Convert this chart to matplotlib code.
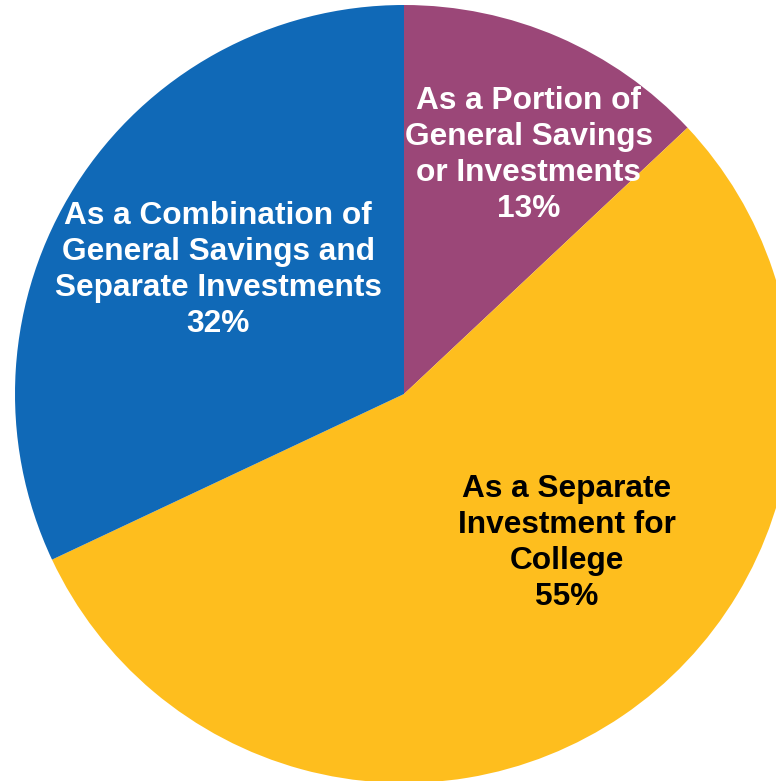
import matplotlib.pyplot as plt

# share of families saving for college, by method
categories = [
    "As a Portion of\nGeneral Savings\nor Investments",
    "As a Separate\nInvestment for\nCollege",
    "As a Combination of\nGeneral Savings and\nSeparate Investments",
]
shares = [13, 55, 32]
colors = ["#9B4778", "#FEBE1E", "#1069B7"]
text_colors = ["white", "black", "white"]
label_pos = [(0.321, 0.614), (0.419, -0.383), (-0.478, 0.319)]

plt.rcParams["font.family"] = ["Liberation Sans", "DejaVu Sans"]

W, H = 776, 781
cx, cy, r = 404, 394, 389

fig = plt.figure(figsize=(W / 100, H / 100), dpi=100)
ax = fig.add_axes([(cx - r) / W, (H - cy - r) / H, 2 * r / W, 2 * r / H])
ax.pie(shares, colors=colors, startangle=90, counterclock=False,
       radius=1, wedgeprops=dict(linewidth=0))
ax.set_xlim(-1, 1)
ax.set_ylim(-1, 1)
ax.set_aspect("auto")
ax.axis("off")

for name, val, col, (x, y) in zip(categories, shares, text_colors, label_pos):
    ax.text(x, y, "%s\n%d%%" % (name, val), ha="center", va="center",
            color=col, fontsize=22.8, fontweight="bold", linespacing=1.27)

fig.savefig("out.png", dpi=100)
